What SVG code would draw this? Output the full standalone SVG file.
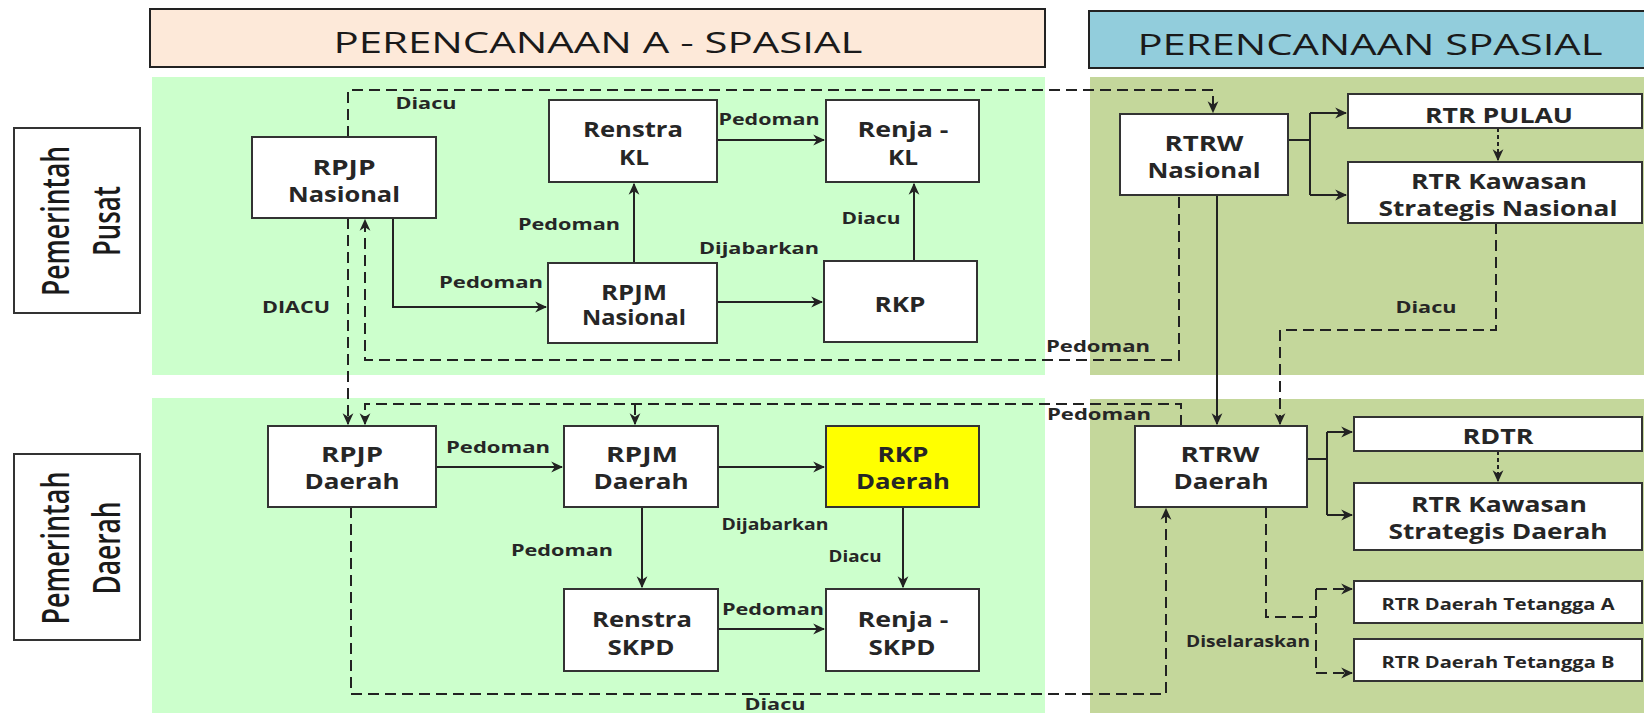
<svg xmlns="http://www.w3.org/2000/svg" width="1644" height="713" viewBox="0 0 1644 713">
<defs>
<marker id="ah" markerUnits="userSpaceOnUse" markerWidth="12" markerHeight="12" viewBox="0 0 10 10" refX="9" refY="5" orient="auto">
<path d="M0,0.5 L10,5 L0,9.5 L3,5 z" fill="#222"/>
</marker>
</defs>
<style>
.box{fill:#fff;stroke:#333;stroke-width:2}
.t{font-family:"Open Sans","Liberation Sans",sans-serif;font-weight:700;font-size:21px;fill:#262626;text-anchor:middle}
.lbl{font-family:"Open Sans","Liberation Sans",sans-serif;font-weight:700;font-size:16px;fill:#262626;text-anchor:middle}
.sm{font-size:16px}
.hd{font-family:"Open Sans","Liberation Sans",sans-serif;font-weight:400;font-size:30px;fill:#1a1a1a;text-anchor:middle}
.rot{font-family:"Open Sans","Liberation Sans",sans-serif;font-weight:600;font-size:27.5px;fill:#1a1a1a;text-anchor:middle}
.ln{fill:none;stroke:#222;stroke-width:2}
.dash{stroke-dasharray:11 6}
.dot{stroke-dasharray:4 3}
</style>

<!-- regions -->
<g id="regions">
<rect x="152" y="77" width="893" height="298" fill="#ccffcc"/>
<rect x="1090" y="77" width="554" height="298" fill="#c4d79b"/>
<rect x="152" y="398" width="893" height="315" fill="#ccffcc"/>
<rect x="1090" y="399" width="554" height="314" fill="#c4d79b"/>
</g>

<!-- headers -->
<g id="header-aspasial">
<rect x="150" y="9" width="895" height="58" fill="#fde9d9" stroke="#222" stroke-width="2"/>
<text class="hd" x="598" y="53" textLength="529" lengthAdjust="spacingAndGlyphs">PERENCANAAN A - SPASIAL</text>
</g>
<g id="header-spasial">
<rect x="1089" y="11" width="570" height="57" fill="#92cddc" stroke="#222" stroke-width="2"/>
<text class="hd" x="1370" y="55" textLength="465" lengthAdjust="spacingAndGlyphs">PERENCANAAN SPASIAL</text>
</g>

<!-- row labels -->
<g id="pemerintah-pusat">
<rect class="box" x="14" y="128" width="126" height="185"/>
<g transform="translate(77,221) scale(1.35,1) rotate(-90)">
<text class="rot" x="0" y="-6" textLength="150" lengthAdjust="spacingAndGlyphs">Pemerintah</text>
<text class="rot" x="0" y="32" textLength="70" lengthAdjust="spacingAndGlyphs">Pusat</text>
</g>
</g>
<g id="pemerintah-daerah">
<rect class="box" x="14" y="454" width="126" height="186"/>
<g transform="translate(77,548) scale(1.35,1) rotate(-90)">
<text class="rot" x="0" y="-6" textLength="153" lengthAdjust="spacingAndGlyphs">Pemerintah</text>
<text class="rot" x="0" y="32" textLength="93" lengthAdjust="spacingAndGlyphs">Daerah</text>
</g>
</g>

<!-- connectors -->
<g id="connectors">
<!-- solid -->
<path class="ln" d="M393,218 V307 H546" marker-end="url(#ah)"/>
<path class="ln" d="M634,263 V184" marker-end="url(#ah)"/>
<path class="ln" d="M717,140 H824" marker-end="url(#ah)"/>
<path class="ln" d="M717,302 H822" marker-end="url(#ah)"/>
<path class="ln" d="M914,261 V184" marker-end="url(#ah)"/>
<path class="ln" d="M1288,140 H1310"/>
<path class="ln" d="M1310,113 V195"/>
<path class="ln" d="M1310,113 H1346" marker-end="url(#ah)"/>
<path class="ln" d="M1310,195 H1346" marker-end="url(#ah)"/>
<path class="ln" d="M1217,195 V424" marker-end="url(#ah)"/>
<path class="ln" d="M436,467 H562" marker-end="url(#ah)"/>
<path class="ln" d="M718,467 H824" marker-end="url(#ah)"/>
<path class="ln" d="M642,507 V587" marker-end="url(#ah)"/>
<path class="ln" d="M903,507 V587" marker-end="url(#ah)"/>
<path class="ln" d="M718,629 H824" marker-end="url(#ah)"/>
<path class="ln" d="M1307,459 H1327"/>
<path class="ln" d="M1327,432 V515"/>
<path class="ln" d="M1327,432 H1352" marker-end="url(#ah)"/>
<path class="ln" d="M1327,515 H1352" marker-end="url(#ah)"/>
<!-- dashed -->
<path class="ln dash" d="M348,137 V90 H1213 V112" marker-end="url(#ah)"/>
<path class="ln dash" d="M348,218 V424" marker-end="url(#ah)"/>
<path class="ln dash" d="M1179,197 V360 H365 V220" marker-end="url(#ah)"/>
<path class="ln dash" d="M1496,223 V330 H1280 V424" marker-end="url(#ah)"/>
<path class="ln dash" d="M1181,426 V404 H365 V424" marker-end="url(#ah)"/>
<path class="ln dash" d="M635,404 V424" marker-end="url(#ah)"/>
<path class="ln dash" d="M351,507 V694 H1166 V509" marker-end="url(#ah)"/>
<path class="ln dash" d="M1266,507 V617 H1316"/>
<path class="ln dash" d="M1316,589 V673"/>
<path class="ln dash" d="M1316,589 H1352" marker-end="url(#ah)"/>
<path class="ln dash" d="M1316,673 H1352" marker-end="url(#ah)"/>
<!-- dotted -->
<path class="ln dot" d="M1498,128 V160" marker-end="url(#ah)"/>
<path class="ln dot" d="M1498,451 V481" marker-end="url(#ah)"/>
<!-- labels -->
<text class="lbl" x="426" y="109" textLength="61" lengthAdjust="spacingAndGlyphs">Diacu</text>
<text class="lbl" x="296" y="313" textLength="68" lengthAdjust="spacingAndGlyphs">DIACU</text>
<text class="lbl" x="491" y="288" textLength="104" lengthAdjust="spacingAndGlyphs">Pedoman</text>
<text class="lbl" x="769" y="125" textLength="101" lengthAdjust="spacingAndGlyphs">Pedoman</text>
<text class="lbl" x="569" y="230" textLength="102" lengthAdjust="spacingAndGlyphs">Pedoman</text>
<text class="lbl" x="871" y="224" textLength="59" lengthAdjust="spacingAndGlyphs">Diacu</text>
<text class="lbl" x="759" y="254" textLength="120" lengthAdjust="spacingAndGlyphs">Dijabarkan</text>
<text class="lbl" x="1426" y="313" textLength="61" lengthAdjust="spacingAndGlyphs">Diacu</text>
<text class="lbl" x="1098" y="352" textLength="104" lengthAdjust="spacingAndGlyphs">Pedoman</text>
<text class="lbl" x="1099" y="420" textLength="104" lengthAdjust="spacingAndGlyphs">Pedoman</text>
<text class="lbl" x="498" y="453" textLength="104" lengthAdjust="spacingAndGlyphs">Pedoman</text>
<text class="lbl" x="562" y="556" textLength="102" lengthAdjust="spacingAndGlyphs">Pedoman</text>
<text class="lbl" x="775" y="530" textLength="107" lengthAdjust="spacingAndGlyphs">Dijabarkan</text>
<text class="lbl" x="855" y="562" textLength="53" lengthAdjust="spacingAndGlyphs">Diacu</text>
<text class="lbl" x="773" y="615" textLength="102" lengthAdjust="spacingAndGlyphs">Pedoman</text>
<text class="lbl" x="775" y="710" textLength="61" lengthAdjust="spacingAndGlyphs">Diacu</text>
<text class="lbl" x="1248" y="647" textLength="124" lengthAdjust="spacingAndGlyphs">Diselaraskan</text>
</g>

<!-- nodes -->
<g id="rpjp-nasional">
<rect class="box" x="252" y="137" width="184" height="81"/>
<text class="t" x="344" y="175" textLength="63" lengthAdjust="spacingAndGlyphs">RPJP</text>
<text class="t" x="344" y="202" textLength="112" lengthAdjust="spacingAndGlyphs">Nasional</text>
</g>
<g id="renstra-kl">
<rect class="box" x="549" y="100" width="168" height="82"/>
<text class="t" x="633" y="137" textLength="100" lengthAdjust="spacingAndGlyphs">Renstra</text>
<text class="t" x="634" y="165" textLength="30" lengthAdjust="spacingAndGlyphs">KL</text>
</g>
<g id="renja-kl">
<rect class="box" x="826" y="100" width="153" height="82"/>
<text class="t" x="903" y="137" textLength="91" lengthAdjust="spacingAndGlyphs">Renja -</text>
<text class="t" x="903" y="165" textLength="30" lengthAdjust="spacingAndGlyphs">KL</text>
</g>
<g id="rpjm-nasional">
<rect class="box" x="548" y="263" width="169" height="80"/>
<text class="t" x="634" y="300" textLength="66" lengthAdjust="spacingAndGlyphs">RPJM</text>
<text class="t" x="634" y="325" textLength="104" lengthAdjust="spacingAndGlyphs">Nasional</text>
</g>
<g id="rkp">
<rect class="box" x="824" y="261" width="153" height="81"/>
<text class="t" x="900" y="312" textLength="51" lengthAdjust="spacingAndGlyphs">RKP</text>
</g>
<g id="rtrw-nasional">
<rect class="box" x="1120" y="114" width="168" height="81"/>
<text class="t" x="1204" y="151" textLength="79" lengthAdjust="spacingAndGlyphs">RTRW</text>
<text class="t" x="1204" y="178" textLength="113" lengthAdjust="spacingAndGlyphs">Nasional</text>
</g>
<g id="rtr-pulau">
<rect class="box" x="1348" y="94" width="294" height="34"/>
<text class="t" x="1499" y="123" textLength="148" lengthAdjust="spacingAndGlyphs">RTR PULAU</text>
</g>
<g id="rtr-ksn">
<rect class="box" x="1348" y="162" width="294" height="61"/>
<text class="t" x="1499" y="189" textLength="176" lengthAdjust="spacingAndGlyphs">RTR Kawasan</text>
<text class="t" x="1498" y="216" textLength="239" lengthAdjust="spacingAndGlyphs">Strategis Nasional</text>
</g>
<g id="rpjp-daerah">
<rect class="box" x="268" y="426" width="168" height="81"/>
<text class="t" x="352" y="462" textLength="62" lengthAdjust="spacingAndGlyphs">RPJP</text>
<text class="t" x="352" y="489" textLength="95" lengthAdjust="spacingAndGlyphs">Daerah</text>
</g>
<g id="rpjm-daerah">
<rect class="box" x="564" y="426" width="154" height="81"/>
<text class="t" x="642" y="462" textLength="72" lengthAdjust="spacingAndGlyphs">RPJM</text>
<text class="t" x="641" y="489" textLength="95" lengthAdjust="spacingAndGlyphs">Daerah</text>
</g>
<g id="rkp-daerah">
<rect class="box" x="826" y="426" width="153" height="81" style="fill:#ffff00"/>
<text class="t" x="903" y="462" textLength="51" lengthAdjust="spacingAndGlyphs">RKP</text>
<text class="t" x="903" y="489" textLength="94" lengthAdjust="spacingAndGlyphs">Daerah</text>
</g>
<g id="renstra-skpd">
<rect class="box" x="564" y="589" width="154" height="82"/>
<text class="t" x="642" y="627" textLength="100" lengthAdjust="spacingAndGlyphs">Renstra</text>
<text class="t" x="641" y="655" textLength="67" lengthAdjust="spacingAndGlyphs">SKPD</text>
</g>
<g id="renja-skpd">
<rect class="box" x="826" y="589" width="153" height="82"/>
<text class="t" x="903" y="627" textLength="91" lengthAdjust="spacingAndGlyphs">Renja -</text>
<text class="t" x="902" y="655" textLength="67" lengthAdjust="spacingAndGlyphs">SKPD</text>
</g>
<g id="rtrw-daerah">
<rect class="box" x="1135" y="426" width="172" height="81"/>
<text class="t" x="1220" y="462" textLength="79" lengthAdjust="spacingAndGlyphs">RTRW</text>
<text class="t" x="1221" y="489" textLength="95" lengthAdjust="spacingAndGlyphs">Daerah</text>
</g>
<g id="rdtr">
<rect class="box" x="1354" y="417" width="288" height="34"/>
<text class="t" x="1498" y="444" textLength="71" lengthAdjust="spacingAndGlyphs">RDTR</text>
</g>
<g id="rtr-ksd">
<rect class="box" x="1354" y="483" width="288" height="67"/>
<text class="t" x="1499" y="512" textLength="176" lengthAdjust="spacingAndGlyphs">RTR Kawasan</text>
<text class="t" x="1498" y="539" textLength="219" lengthAdjust="spacingAndGlyphs">Strategis Daerah</text>
</g>
<g id="rtr-tetangga-a">
<rect class="box" x="1354" y="581" width="288" height="42"/>
<text class="t sm" x="1498" y="610" textLength="233" lengthAdjust="spacingAndGlyphs">RTR Daerah Tetangga A</text>
</g>
<g id="rtr-tetangga-b">
<rect class="box" x="1354" y="639" width="288" height="42"/>
<text class="t sm" x="1498" y="668" textLength="233" lengthAdjust="spacingAndGlyphs">RTR Daerah Tetangga B</text>
</g>
</svg>
